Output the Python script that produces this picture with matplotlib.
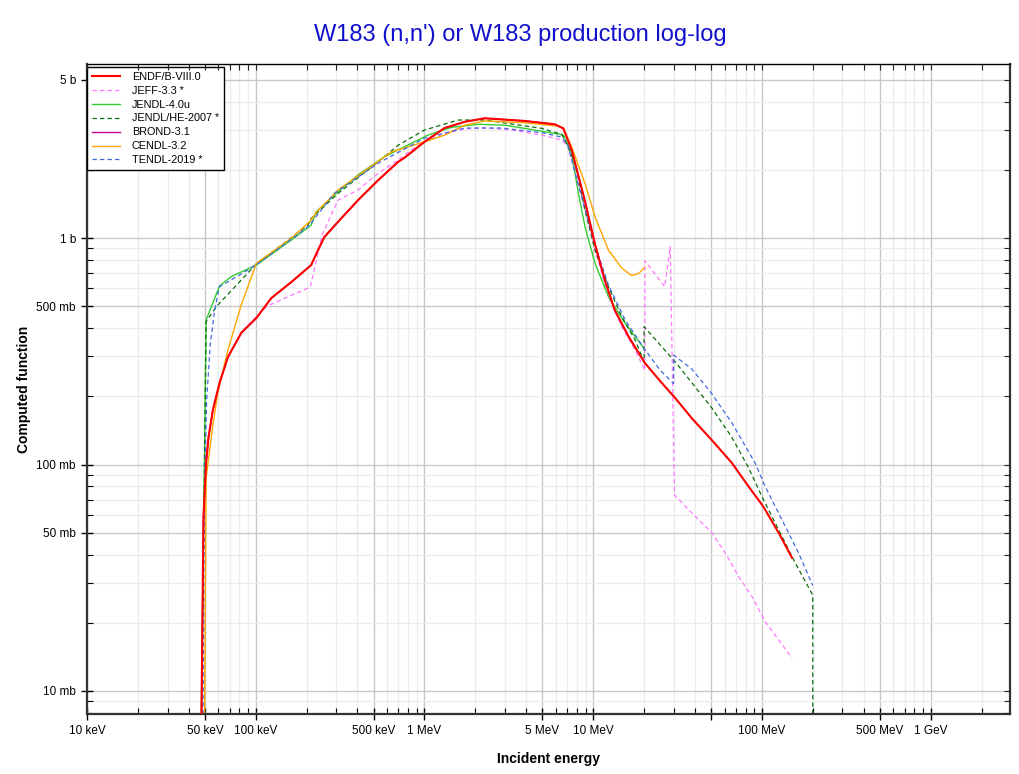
#!/usr/bin/env python

import matplotlib
matplotlib.use("agg")
import numpy as np
import matplotlib.pyplot as plt
from matplotlib.ticker import FixedLocator, FixedFormatter, NullFormatter, LogLocator

plt.rcParams["font.family"] = ["Liberation Sans", "DejaVu Sans"]

# incident energy in MeV, cross section in barns
endf_e = [0.0474, 0.0490, 0.0508, 0.0525, 0.0557, 0.0610, 0.0684, 0.0820,
          0.1007, 0.1236, 0.1625, 0.213, 0.234, 0.255, 0.3075, 0.404,
          0.531, 0.698, 0.760, 1.0, 1.315, 1.73, 2.27, 3.92, 5.91, 6.65,
          7.45, 8.9, 10.2, 11.7, 13.4, 16.2, 20.2, 25.5, 30.6, 38.4,
          50.5, 66.4, 83.4, 102.0, 125.6, 150.7]
endf_s = [0.005, 0.0586, 0.1016, 0.132, 0.174, 0.229, 0.298, 0.381,
          0.443, 0.543, 0.639, 0.760, 0.885, 1.01, 1.18, 1.47,
          1.80, 2.17, 2.26, 2.66, 3.06, 3.26, 3.38, 3.29, 3.18, 3.05,
          2.45, 1.47, 0.95, 0.653, 0.481, 0.367, 0.281, 0.229, 0.1966, 0.160,
          0.128, 0.1015, 0.0798, 0.0651, 0.0499, 0.0387]

jeff_e = [0.0474, 0.0490, 0.0508, 0.0525, 0.0557, 0.0610, 0.0684, 0.0820,
          0.0878, 0.117, 0.2106, 0.248, 0.3075, 0.404, 0.531, 0.698,
          0.837, 1.0, 1.32, 1.73, 2.28, 3.28, 4.95, 6.50, 7.12, 8.55,
          10.25, 12.3, 14.76, 17.7, 20.2, 20.25, 26.5, 28.6, 30.3, 38.4,
          50.5, 60.6, 72.7, 87.3, 104.6, 125.6, 150.7]
jeff_s = [0.005, 0.0586, 0.1016, 0.132, 0.174, 0.229, 0.298, 0.381,
          0.406, 0.501, 0.608, 1.04, 1.47, 1.63, 1.93, 2.21,
          2.45, 2.66, 2.90, 3.03, 3.07, 3.00, 2.85, 2.71, 2.53, 1.52,
          0.885, 0.551, 0.406, 0.320, 0.261, 0.794, 0.610, 0.915, 0.0733, 0.0611,
          0.0499, 0.0407, 0.0320, 0.0261, 0.0202, 0.0168, 0.01394]

jendl_e = [0.0472, 0.0508, 0.0610, 0.0715, 0.1007, 0.1625, 0.213, 0.2286,
           0.3075, 0.404, 0.581, 0.917, 1.05, 1.445, 2.08, 3.0, 4.73, 6.35,
           6.65, 7.45, 8.17, 8.94, 10.25, 12.3, 15.44, 20.0]
jendl_s = [0.005, 0.435, 0.614, 0.675, 0.760, 0.98, 1.14, 1.31,
           1.60, 1.90, 2.29, 2.71, 2.85, 3.08, 3.18, 3.15, 2.98, 2.87,
           2.85, 2.37, 1.575, 1.12, 0.773, 0.551, 0.42, 0.326]

jendlhe_e = [0.0475, 0.0508, 0.0583, 0.1007, 0.204, 0.213, 0.3075, 0.531,
             0.698, 1.0, 1.585, 2.28, 3.28, 4.95, 6.50, 6.80, 7.80, 8.94,
             10.25, 12.3, 14.76, 17.7, 20.0, 20.01, 30.6, 50.5, 66.4, 83.4,
             100.0, 125.6, 157.6, 200.0, 200.01]
jendlhe_s = [0.005, 0.427, 0.497, 0.768, 1.14, 1.22, 1.575, 2.17,
             2.57, 3.00, 3.32, 3.32, 3.19, 3.05, 2.87, 2.71, 2.14, 1.33,
             0.885, 0.610, 0.449, 0.355, 0.284, 0.406, 0.284, 0.1776, 0.1316, 0.0965,
             0.0721, 0.0514, 0.0367, 0.0265, 0.005]

# BROND-3.1 sits under ENDF/B-VIII.0 up to 20 MeV
brond_e = endf_e[:33]
brond_s = endf_s[:33]

cendl_e = [0.0496, 0.0508, 0.0557, 0.0597, 0.0684, 0.0820, 0.1007, 0.1625,
           0.213, 0.2286, 0.3075, 0.637, 1.0, 1.32, 1.73, 2.28, 3.94, 6.22,
           6.65, 7.45, 8.94, 10.25, 12.3, 14.76, 16.9, 18.6, 20.0]
cendl_s = [0.005, 0.0872, 0.1494, 0.209, 0.320, 0.506, 0.773, 0.997,
           1.20, 1.30, 1.63, 2.40, 2.66, 2.85, 3.15, 3.29, 3.23, 3.12,
           3.05, 2.53, 1.74, 1.24, 0.885, 0.737, 0.683, 0.698, 0.737]

tendl_e = [0.0485, 0.0497, 0.0512, 0.0537, 0.0569, 0.0607, 0.1007, 0.204,
           0.292, 0.531, 1.0, 1.73, 2.86, 4.95, 6.50, 7.06, 8.17, 10.25,
           12.3, 15.44, 20.0, 24.9, 29.9, 30.0, 38.4, 50.5, 66.4, 91.2,
           104.6, 131.5, 165.1, 200.0]
tendl_s = [0.005, 0.0828, 0.1927, 0.337, 0.471, 0.608, 0.760, 1.12,
           1.575, 2.14, 2.76, 3.06, 3.06, 2.92, 2.79, 2.57, 1.71, 0.93,
           0.620, 0.435, 0.326, 0.261, 0.228, 0.304, 0.264, 0.205, 0.1525, 0.1012,
           0.0798, 0.0569, 0.0405, 0.0292]

x_ticks = [1e4, 5e4, 1e5, 5e5, 1e6, 5e6, 1e7, 5e7, 1e8, 5e8, 1e9]
x_labels = ["10 keV", "50 keV", "100 keV", "500 keV", "1 MeV", "5 MeV",
            "10 MeV", "", "100 MeV", "500 MeV", "1 GeV"]
y_ticks = [0.01, 0.05, 0.1, 0.5, 1.0, 5.0]
y_labels = ["10 mb", "50 mb", "100 mb", "500 mb", "1 b", "5 b"]

XLIM = (1e4, 2.95e9)
YLIM = (7.91e-3, 5.85)
POS = [0.0853, 0.0775, 0.9049, 0.8394]
MINOR_SUBS = [2, 3, 4, 6, 7, 8, 9]


def mev(vals):
    return np.array(vals) * 1e6


def set_log_ticks(ax):
    ax.set_xscale("log")
    ax.set_yscale("log")
    ax.set_xlim(*XLIM)
    ax.set_ylim(*YLIM)
    ax.xaxis.set_major_locator(FixedLocator(x_ticks))
    ax.yaxis.set_major_locator(FixedLocator(y_ticks))
    ax.xaxis.set_minor_locator(LogLocator(base=10, subs=MINOR_SUBS))
    ax.yaxis.set_minor_locator(LogLocator(base=10, subs=MINOR_SUBS))
    ax.xaxis.set_minor_formatter(NullFormatter())
    ax.yaxis.set_minor_formatter(NullFormatter())


def main():
    fig = plt.figure(figsize=(10.2, 7.74), dpi=100)
    ax = fig.add_axes(POS)

    dash = (0, (3.5, 2.5))
    ax.plot(mev(endf_e), endf_s, color="#ff0000", lw=1.5, zorder=10,
            label="ENDF/B-VIII.0")
    ax.plot(mev(jeff_e), jeff_s, color="#ff77ff", lw=0.9, ls=dash,
            label="JEFF-3.3 *")
    ax.plot(mev(jendl_e), jendl_s, color="#33cc33", lw=1.0,
            label="JENDL-4.0u")
    ax.plot(mev(jendlhe_e), jendlhe_s, color="#0b6e0b", lw=0.9, ls=dash,
            label="JENDL/HE-2007 *")
    ax.plot(mev(brond_e), brond_s, color="#c80096", lw=1.0, zorder=1.5,
            label="BROND-3.1")
    ax.plot(mev(cendl_e), cendl_s, color="#ffa500", lw=1.0,
            label="CENDL-3.2")
    ax.plot(mev(tendl_e), tendl_s, color="#4169e1", lw=0.9, ls=dash,
            label="TENDL-2019 *")

    set_log_ticks(ax)
    ax.xaxis.set_major_formatter(FixedFormatter(x_labels))
    ax.yaxis.set_major_formatter(FixedFormatter(y_labels))

    ax.set_axisbelow(True)
    ax.grid(which="major", color="#c8c8c8", lw=1.0)
    ax.grid(which="minor", color="#ececec", lw=1.0)

    ax.tick_params(which="major", direction="inout", length=8, width=1.0,
                   labelsize=8.5, top=False, right=False, pad=4)
    ax.tick_params(which="minor", direction="in", length=4, width=0.8,
                   top=False, right=False)
    for side in ["left", "bottom", "right"]:
        ax.spines[side].set_linewidth(1.6)
        ax.spines[side].set_color("#333333")
    ax.spines["top"].set_linewidth(1.0)
    ax.spines["top"].set_color("black")

    # overlay axes carrying only the inward ticks on the top and right edges
    ov = fig.add_axes(POS, frameon=False)
    set_log_ticks(ov)
    ov.xaxis.set_major_formatter(NullFormatter())
    ov.yaxis.set_major_formatter(NullFormatter())
    ov.tick_params(which="both", direction="in", length=4, width=0.8,
                   top=True, right=True, bottom=False, left=False,
                   labeltop=False, labelright=False, labelbottom=False,
                   labelleft=False, color="#222222")
    ov.patch.set_visible(False)

    ax.set_xlabel("Incident energy", fontsize=10, fontweight="bold")
    ax.set_ylabel("Computed function", fontsize=10, fontweight="bold")
    ax.xaxis.set_label_coords(0.5, -0.058)
    ax.yaxis.set_label_coords(-0.0607, 0.5)
    fig.text(0.51, 0.955, "W183 (n,n') or W183 production log-log",
             ha="center", va="center", fontsize=17, color="#1010cc")

    leg = ax.legend(loc="upper left", bbox_to_anchor=(0.0, 0.996),
                    fontsize=7.8, borderaxespad=0.0,
                    handlelength=2.6, labelspacing=0.36, fancybox=False,
                    framealpha=1.0, edgecolor="black", borderpad=0.45,
                    handletextpad=1.1)
    leg.get_frame().set_linewidth(1.0)
    leg.set_zorder(20)

    fig.savefig("out.png", dpi=100)


if __name__ == "__main__":
    main()
